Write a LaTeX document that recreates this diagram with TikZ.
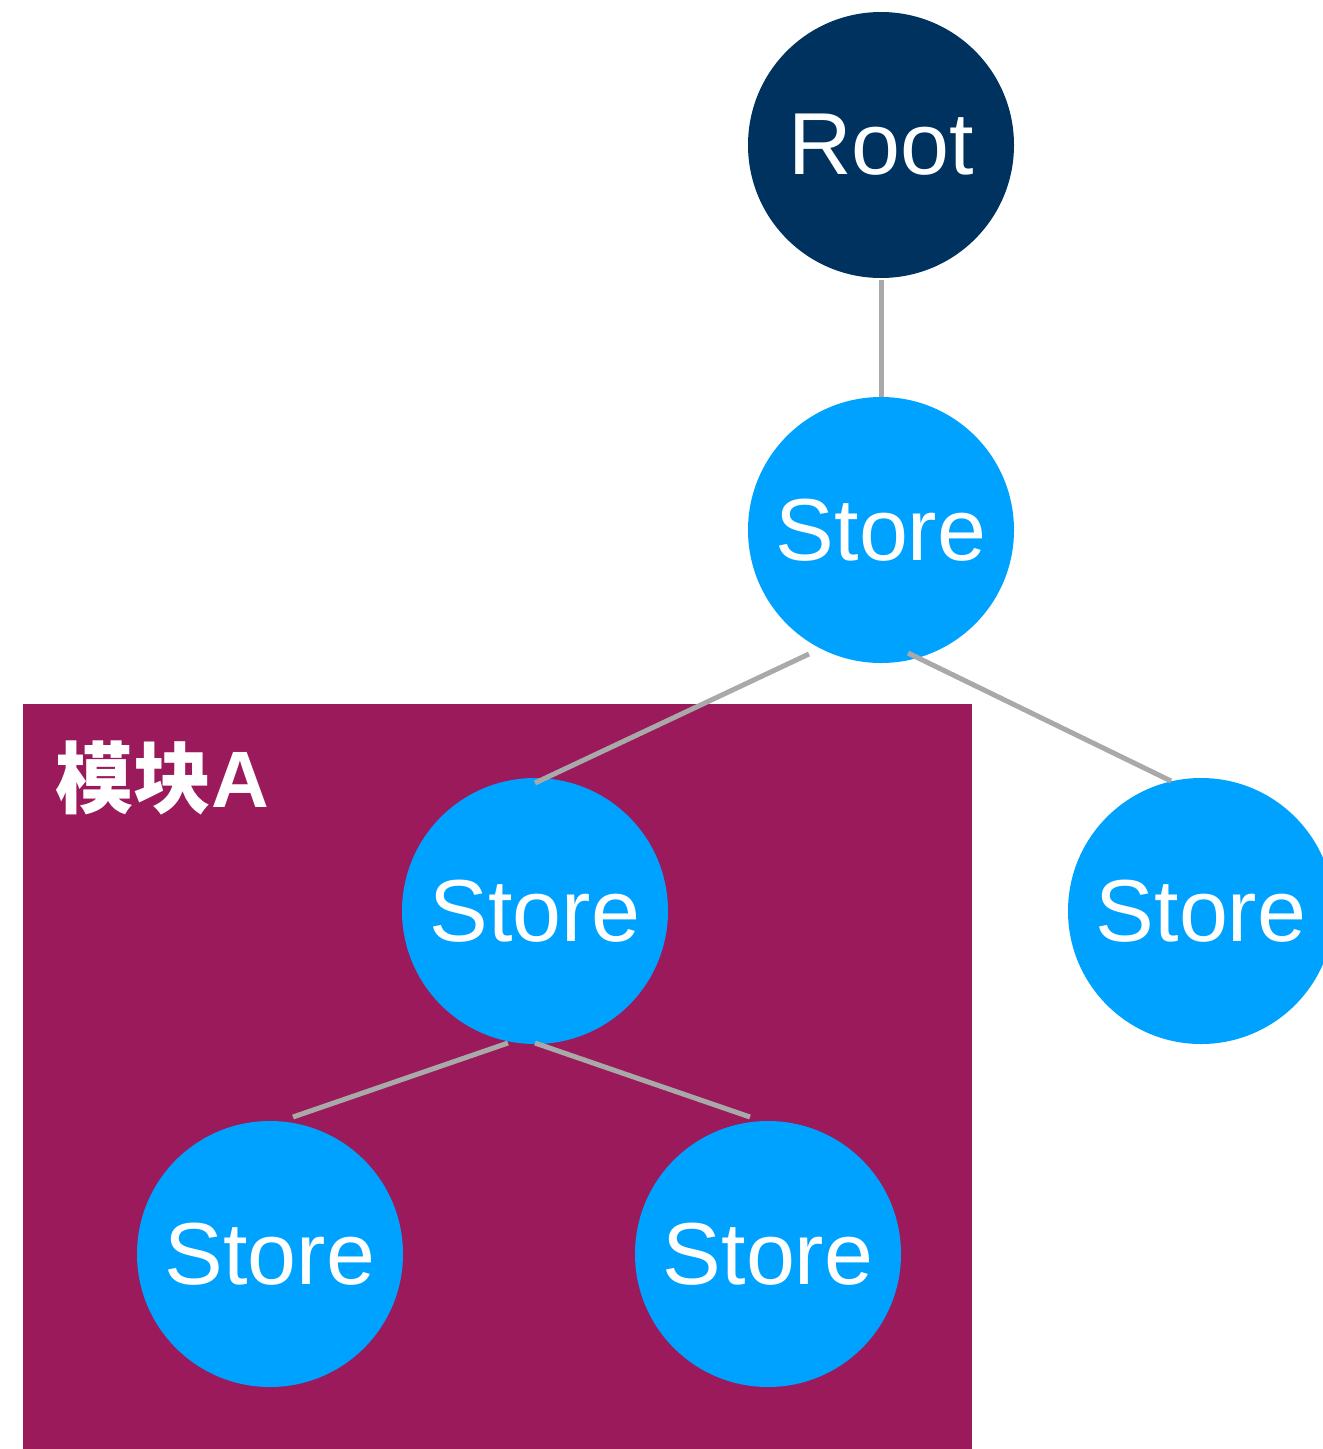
\documentclass[tikz,border=0pt]{standalone}
\usepackage{fontspec}
\setmainfont{Liberation Sans}
\newfontfamily\cjk{Noto Sans CJK SC}
\usetikzlibrary{calc}
\definecolor{rootc}{HTML}{00325F}
\definecolor{storec}{HTML}{00A2FF}
\definecolor{modc}{HTML}{9A1A5C}
\definecolor{linec}{HTML}{A9A9A9}
\tikzset{
  treenode/.style={circle, minimum size=266pt, inner sep=0pt, text=white, font=\fontsize{88}{88}\selectfont},
  rootnode/.style={treenode, fill=rootc},
  storenode/.style={treenode, fill=storec},
  link/.style={draw=linec, line width=5pt, line cap=butt},
  modbox/.style={fill=modc, draw=none},
}
\begin{document}
\begin{tikzpicture}[x=1pt,y=-1pt]
\useasboundingbox (0,0) rectangle (1323,1449);
\begin{scope}
\clip (0,0) rectangle (1323,1449);
\fill[modbox] (23,704) rectangle (972,1449);
\node[anchor=base west, inner sep=0pt, text=white] (lab) at (55,807) {\cjk\bfseries\fontsize{78}{78}\selectfont 模块\normalfont\bfseries\fontsize{80}{80}\selectfont A};
\node[rootnode] (root) at (881,145) {Root};
\node[storenode] (s1) at (881,530) {Store};
\node[storenode] (s2) at (535,911) {Store};
\node[storenode] (s3) at (1201,911) {Store};
\node[storenode] (s4) at (270,1254) {Store};
\node[storenode] (s5) at (768,1254) {Store};
\coordinate (r-b) at ($(root)+(0,135)$);
\coordinate (s1-t) at ($(s1)+(0,-133)$);
\coordinate (s1-bl) at ($(s1)+(-72,124)$);
\coordinate (s1-br) at ($(s1)+(27,123)$);
\coordinate (s2-t) at ($(s2)+(0,-128)$);
\coordinate (s3-t) at ($(s3)+(-30,-130)$);
\coordinate (s2-bl) at ($(s2)+(-27,132)$);
\coordinate (s2-br) at ($(s2)+(0,132)$);
\coordinate (s4-t) at ($(s4)+(23,-137)$);
\coordinate (s5-t) at ($(s5)+(-18,-137)$);
\draw[link] (r-b) -- (s1-t);
\draw[link] (s1-bl) -- (s2-t);
\draw[link] (s1-br) -- (s3-t);
\draw[link] (s2-bl) -- (s4-t);
\draw[link] (s2-br) -- (s5-t);
\end{scope}
\end{tikzpicture}
\end{document}
